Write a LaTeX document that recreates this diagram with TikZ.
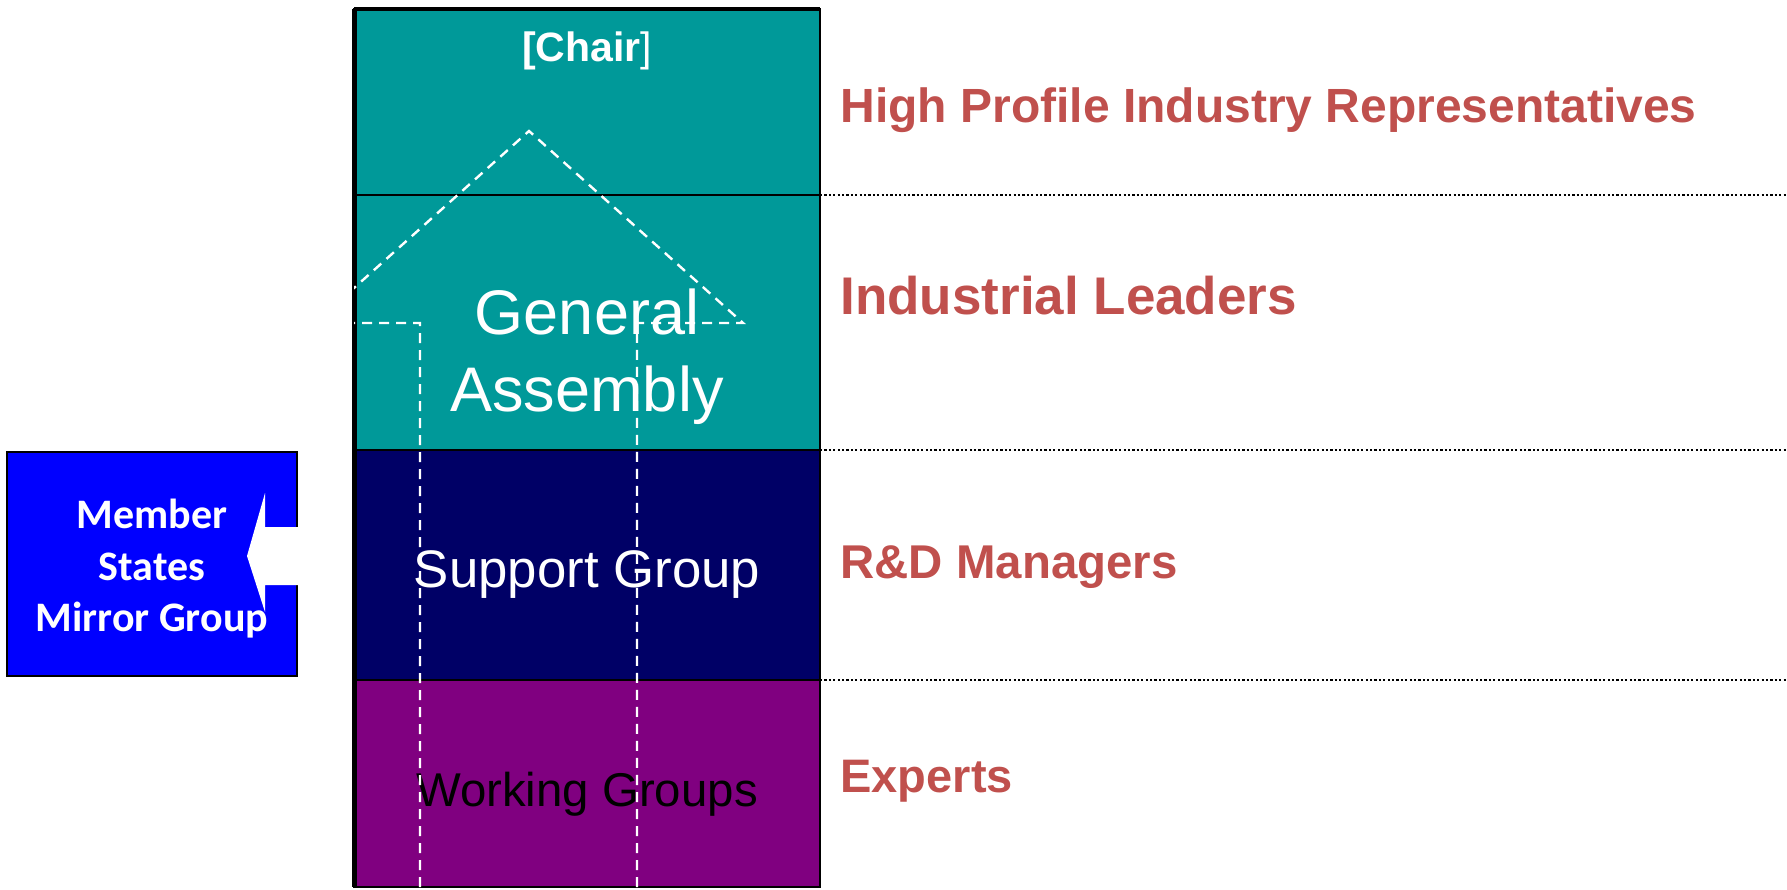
\documentclass[tikz,border=0pt]{standalone}
\usepackage{fontspec}
\setmainfont{Liberation Sans}
\newfontfamily\calibri{Carlito}
\definecolor{chairteal}{HTML}{009999}
\definecolor{sgnavy}{HTML}{000066}
\definecolor{wgpurple}{HTML}{800080}
\definecolor{msblue}{HTML}{0000FF}
\definecolor{rankred}{HTML}{C0504D}
\begin{document}
\begin{tikzpicture}[x=0.5pt,y=-0.5pt]
  \tikzstyle{tier}=[draw=black,line width=1.2pt,inner sep=0pt,outer sep=0pt,minimum width=233pt,anchor=north]
  \tikzstyle{rank}=[anchor=base west,inner sep=0pt,text=rankred,font=\bfseries\fontsize{24pt}{28pt}\selectfont]
  \tikzstyle{flow}=[draw=white,line width=1.2pt,dash pattern=on 5pt off 3.5pt]
  \tikzstyle{dotline}=[line width=1.3pt,dash pattern=on 1.1pt off 1.1pt]
  \useasboundingbox (0,0) rectangle (1787,889);
  \coordinate (edge) at (1787,0);
  \node[tier,fill=chairteal,minimum height=93pt] (chair) at (587,9) {};
  \node[tier,fill=chairteal,minimum height=127.5pt] (ga) at (chair.south) {};
  \node[tier,fill=sgnavy,minimum height=115pt] (sg) at (ga.south) {};
  \node[tier,fill=wgpurple,minimum height=103.5pt] (wg) at (sg.south) {};
  \draw[dotline] (chair.south east) -- (chair.south east -| edge);
  \draw[dotline] (ga.south east) -- (ga.south east -| edge);
  \draw[dotline] (sg.south east) -- (sg.south east -| edge);
  \node[anchor=base,text=white,font=\bfseries\fontsize{20.5pt}{24pt}\selectfont] (chairlbl) at (587,61) {[Chair{\mdseries]}};
  \node[align=center,text=white,font=\fontsize{31.5pt}{38.5pt}\selectfont] (galbl) at (587,357) {General\\Assembly};
  \node[anchor=base,text=white,font=\fontsize{26.4pt}{30pt}\selectfont] (sglbl) at (587,587) {Support Group};
  \node[anchor=base,text=black,font=\fontsize{23.7pt}{28pt}\selectfont] (wglbl) at (587,806) {Working Groups};
  \node[rank] (hpir) at (840,122) {High Profile Industry Representatives};
  \node[rank,font=\bfseries\fontsize{26.5pt}{30pt}\selectfont] (indl) at (840,314) {Industrial Leaders};
  \node[rank,font=\bfseries\fontsize{23.7pt}{28pt}\selectfont] (rdm) at (840,578) {R\&D Managers};
  \node[rank,font=\bfseries\fontsize{23.5pt}{28pt}\selectfont] (expl) at (840,792) {Experts};
  \node[draw=black,line width=0.75pt,fill=msblue,inner sep=0pt,minimum width=145pt,minimum height=112pt] (ms) at (152,564) {};
  \fill[white] (sg.west |- 0,527) -- (265,527) -- (265,493) -- (247,556) -- (265,612) -- (265,585) -- (sg.west |- 0,585) -- cycle;
  \node[align=center,text=white,font=\calibri\bfseries\fontsize{21pt}{25.75pt}\selectfont] (mslbl) at (152,569) {Member\\States\\Mirror Group};
  \draw[line width=2.5pt] (chair.north west) -- (wg.south west);
  \draw[line width=2pt] (chair.north west) -- (chair.north east);
  \begin{scope}
    \clip (chair.north west) rectangle (wg.south east);
    \draw[flow] (420,887) -- (420,323) -- (315,323) -- (529,131) -- (743,323) -- (637,323) -- (637,887);
  \end{scope}
\end{tikzpicture}
\end{document}
